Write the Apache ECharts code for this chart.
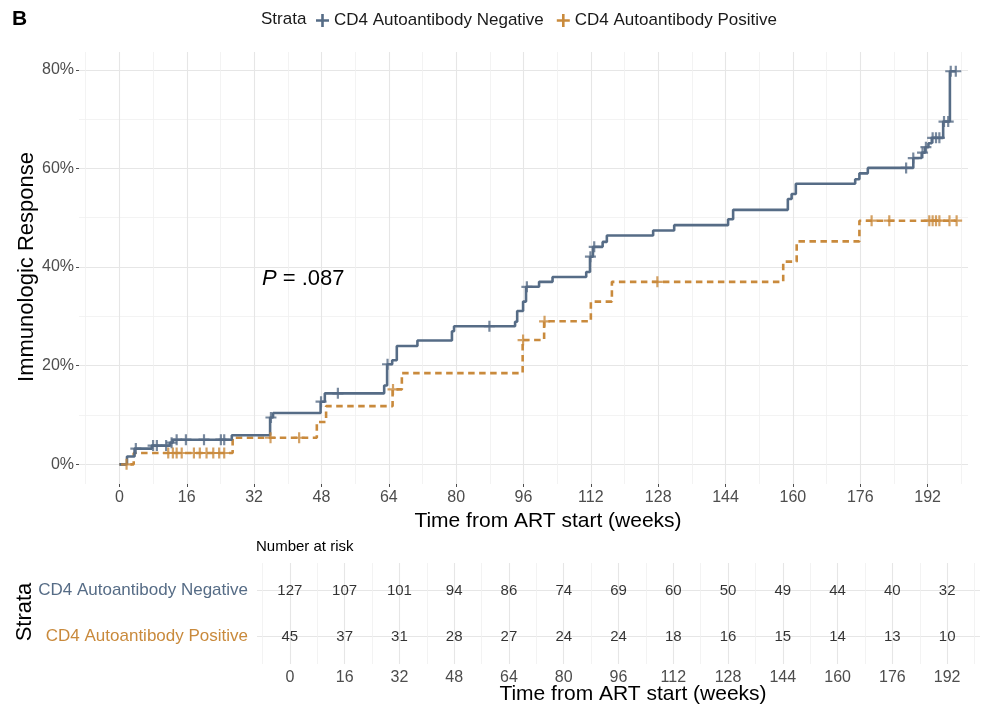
<!DOCTYPE html>
<html><head><meta charset="utf-8">
<script src="https://cdn.jsdelivr.net/npm/echarts@6/dist/echarts.min.js"></script>
<style>html,body{margin:0;padding:0;background:#fff}#c{width:982px;height:715px}</style>
</head><body><div id="c"></div>
<script>
// ---------- data ----------
const strata = ['CD4 Autoantibody Negative', 'CD4 Autoantibody Positive'];

const negTimes  = [0, 1.8, 3.6, 7.7, 12.0, 12.7, 26.7, 35.8, 36.5, 47.8, 48.8, 62.9, 63.6, 64.8, 65.9, 70.8, 79.0, 79.5, 94.0, 94.5, 95.9, 96.6, 99.7, 102.9, 110.9, 111.8, 112.5, 114.8, 115.8, 126.8, 131.8, 144.6, 145.8, 158.8, 159.7, 160.7, 174.8, 175.8, 177.8, 188.6, 190.6, 191.4, 192.2, 193.0, 195.7, 197.3];
const negValues = [0, 1.6, 3.2, 3.8, 4.4, 5.0, 5.9, 9.5, 10.4, 12.7, 14.4, 16.0, 20.3, 21.1, 24.0, 25.1, 27.0, 28.0, 28.9, 31.1, 33.0, 36.0, 37.0, 38.0, 39.0, 42.1, 44.1, 45.1, 46.4, 47.4, 48.5, 49.7, 51.6, 53.8, 54.8, 56.9, 57.8, 59.0, 60.1, 62.1, 63.2, 64.3, 65.1, 66.2, 69.5, 79.7];
const negEnd = 198.8;
const negCensor = [3.9, 8.0, 8.9, 11.1, 12.4, 13.6, 15.8, 20.1, 24.1, 24.9, 36.0, 47.9, 51.9, 63.7, 87.9, 96.8, 111.9, 112.8, 186.9, 188.6, 190.8, 191.6, 193.2, 194.0, 194.8, 195.9, 196.9, 197.5, 198.7];

const posTimes  = [0, 3.4, 26.9, 46.9, 49.1, 64.9, 67.1, 95.8, 100.9, 112.0, 117.0, 157.7, 160.9, 175.8];
const posValues = [0, 2.3, 5.4, 8.6, 11.8, 15.2, 18.5, 25.2, 29.0, 33.0, 37.0, 41.1, 45.2, 49.4];
const posEnd = 198.9;
const posCensor = [1.7, 11.6, 12.7, 13.6, 14.8, 17.7, 19.1, 20.7, 22.3, 23.7, 24.9, 35.9, 42.7, 65.0, 95.9, 101.0, 127.8, 178.7, 182.9, 192.4, 193.2, 194.0, 194.8, 197.2, 198.9];

const riskTimes = [0, 16, 32, 48, 64, 80, 96, 112, 128, 144, 160, 176, 192];
const riskNeg = [127, 107, 101, 94, 86, 74, 69, 60, 50, 49, 44, 40, 32];
const riskPos = [45, 37, 31, 28, 27, 24, 24, 18, 16, 15, 14, 13, 10];

const xBreaks = [0, 16, 32, 48, 64, 80, 96, 112, 128, 144, 160, 176, 192];
const xMinorBreaks = [-8, 8, 24, 40, 56, 72, 88, 104, 120, 136, 152, 168, 184, 200];
const yBreaks = [0, 20, 40, 60, 80];
const yMinorBreaks = [10, 30, 50, 70];
const pValueText = '= .087';

// ---------- helpers ----------
const FONT = "'Liberation Sans', Arial, Helvetica, sans-serif";
const NEG = '#566c86', POS = '#c98a3c';
const CROSS = 'path://M4,0 H6 V4 H10 V6 H6 V10 H4 V6 H0 V4 H4 Z';
function stepData(times, values, end) {
  const d = times.map((t, i) => [t, values[i]]);
  d.push([end, values[values.length - 1]]);
  return d;
}
function valueAt(times, values, t) {
  let v = values[0];
  for (let i = 0; i < times.length; i++) if (times[i] <= t) v = values[i];
  return v;
}
function gridLines(major, minor, key) {
  return major.map(v => ({ [key]: v, lineStyle: { color: '#e6e6e6', width: 1.1, type: 'solid' } }))
    .concat(minor.map(v => ({ [key]: v, lineStyle: { color: '#f0f0f0', width: 0.8, type: 'solid' } })));
}
const markBase = { silent: true, z: 0, symbol: ['none', 'none'], label: { show: false }, animation: false };
const noLine = { show: false, onZero: false };

const chart = echarts.init(document.getElementById('c'), null, { renderer: 'canvas' });
chart.setOption({
  animation: false,
  backgroundColor: '#fff',
  textStyle: { fontFamily: FONT },
  legend: {
    left: 311, top: 7, itemWidth: 13, itemHeight: 13, itemGap: 13,
    textStyle: { fontSize: 17, color: '#1a1a1a', fontFamily: FONT },
    data: [{ name: strata[0], icon: CROSS }, { name: strata[1], icon: CROSS }],
    selectedMode: false
  },
  grid: [
    { left: 79, right: 14, top: 52, height: 432 },
    { left: 257, right: 2, top: 563, height: 101 }
  ],
  xAxis: [
    { type: 'value', gridIndex: 0, min: -9.6, max: 201.6, position: 'bottom',
      axisLine: noLine, splitLine: { show: false },
      axisTick: { show: true, length: 3, customValues: xBreaks, lineStyle: { color: '#4d4d4d' } },
      axisLabel: { customValues: xBreaks, fontSize: 16, color: '#4d4d4d', margin: 6, fontFamily: FONT } },
    { type: 'value', gridIndex: 1, min: -9.6, max: 201.6, position: 'bottom',
      axisLine: noLine, splitLine: { show: false },
      axisTick: { show: false, customValues: xBreaks },
      axisLabel: { customValues: xBreaks, fontSize: 16, color: '#4d4d4d', margin: 6, fontFamily: FONT } }
  ],
  yAxis: [
    { type: 'value', gridIndex: 0, min: -3.98, max: 83.6, position: 'left',
      axisLine: noLine, splitLine: { show: false },
      axisTick: { show: true, length: 3, customValues: yBreaks, lineStyle: { color: '#4d4d4d' } },
      axisLabel: { customValues: yBreaks, formatter: '{value}%', fontSize: 16, color: '#4d4d4d', margin: 5, fontFamily: FONT } },
    { type: 'value', gridIndex: 1, min: 0.4, max: 2.6, position: 'left',
      axisLine: noLine, splitLine: { show: false },
      axisTick: { show: false, customValues: [1, 2] },
      axisLabel: { customValues: [1, 2], margin: 9, fontFamily: FONT,
        formatter: v => v === 2 ? '{n|' + strata[0] + '}' : (v === 1 ? '{p|' + strata[1] + '}' : ''),
        rich: { n: { color: NEG, fontSize: 17, fontFamily: FONT }, p: { color: POS, fontSize: 17, fontFamily: FONT } } } }
  ],
  series: [
    { type: 'line', name: 'grid-main', xAxisIndex: 0, yAxisIndex: 0, data: [], z: 0, silent: true,
      markLine: Object.assign({}, markBase, { data: gridLines(yBreaks, yMinorBreaks, 'yAxis').concat(gridLines(xBreaks, xMinorBreaks, 'xAxis')) }) },
    { type: 'line', name: 'grid-risk', xAxisIndex: 1, yAxisIndex: 1, data: [], z: 0, silent: true,
      markLine: Object.assign({}, markBase, { data: gridLines([1, 2], [], 'yAxis').concat(gridLines(xBreaks, xMinorBreaks, 'xAxis')) }) },
    { type: 'line', name: strata[0], xAxisIndex: 0, yAxisIndex: 0, step: 'end', showSymbol: false, z: 3,
      color: NEG, lineStyle: { color: NEG, width: 2.6 }, data: stepData(negTimes, negValues, negEnd) },
    { type: 'line', name: strata[1], xAxisIndex: 0, yAxisIndex: 0, step: 'end', showSymbol: false, z: 2,
      color: POS, lineStyle: { color: POS, width: 2.6, type: [6.5, 4.5] }, data: stepData(posTimes, posValues, posEnd) },
    { type: 'scatter', name: 'negCensor', xAxisIndex: 0, yAxisIndex: 0, symbol: CROSS, symbolSize: 11, z: 4,
      itemStyle: { color: NEG }, data: negCensor.map(t => [t, valueAt(negTimes, negValues, t)]) },
    { type: 'scatter', name: 'posCensor', xAxisIndex: 0, yAxisIndex: 0, symbol: CROSS, symbolSize: 11, z: 4,
      itemStyle: { color: POS }, data: posCensor.map(t => [t, valueAt(posTimes, posValues, t)]) },
    { type: 'scatter', name: 'riskNeg', xAxisIndex: 1, yAxisIndex: 1, symbolSize: 1, z: 6, itemStyle: { color: 'rgba(0,0,0,0)' },
      label: { show: true, position: 'inside', formatter: p => String(p.value[2]), fontSize: 15, color: '#000', fontFamily: FONT },
      data: riskTimes.map((t, i) => [t, 2, riskNeg[i]]) },
    { type: 'scatter', name: 'riskPos', xAxisIndex: 1, yAxisIndex: 1, symbolSize: 1, z: 6, itemStyle: { color: 'rgba(0,0,0,0)' },
      label: { show: true, position: 'inside', formatter: p => String(p.value[2]), fontSize: 15, color: '#000', fontFamily: FONT },
      data: riskTimes.map((t, i) => [t, 1, riskPos[i]]) }
  ],
  graphic: [
    { type: 'text', left: 12, top: 9, style: { text: 'B', font: 'bold 21px ' + FONT, fill: '#000' } },
    { type: 'text', x: 261, y: 19, style: { text: 'Strata', font: '17px ' + FONT, fill: '#1a1a1a', textVerticalAlign: 'middle' } },
    { type: 'text', x: 262, y: 279, z: 10, style: { text: '{i|P} ' + pValueText, font: '22px ' + FONT, fill: '#000', textVerticalAlign: 'middle',
        rich: { i: { fontStyle: 'italic', fontSize: 22, fontFamily: FONT } } } },
    { type: 'text', x: 548, y: 521, style: { text: 'Time from ART start (weeks)', font: '21px ' + FONT, fill: '#000', textAlign: 'center', textVerticalAlign: 'middle' } },
    { type: 'text', x: 27, y: 267, rotation: Math.PI / 2, style: { text: 'Immunologic Response', font: '22px ' + FONT, fill: '#000', textAlign: 'center', textVerticalAlign: 'middle' } },
    { type: 'text', x: 256, y: 547, style: { text: 'Number at risk', font: '15px ' + FONT, fill: '#000', textVerticalAlign: 'middle' } },
    { type: 'text', x: 25, y: 612, rotation: Math.PI / 2, style: { text: 'Strata', font: '22px ' + FONT, fill: '#000', textAlign: 'center', textVerticalAlign: 'middle' } },
    { type: 'text', x: 633, y: 694, style: { text: 'Time from ART start (weeks)', font: '21px ' + FONT, fill: '#000', textAlign: 'center', textVerticalAlign: 'middle' } }
  ]
});
</script>
</body></html>
